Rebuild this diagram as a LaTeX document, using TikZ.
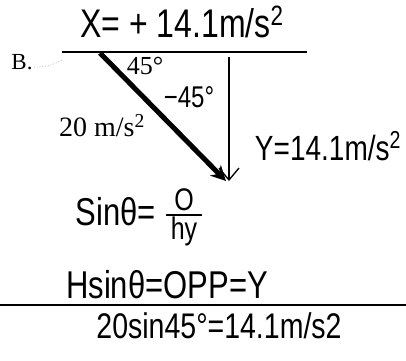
\documentclass[tikz,border=0pt]{standalone}
\usepackage{fontspec}
\setmainfont{Liberation Serif}
\newfontfamily\handfont{Liberation Sans}
\usetikzlibrary{arrows.meta}
\newcommand\tallhand[1]{\scalebox{1}[1.25]{#1}}
\begin{document}
\begin{tikzpicture}[x=1pt,y=-1pt,
  hand/.style={inner sep=0pt, anchor=center},
  printed/.style={inner sep=0pt, anchor=center},
  rule/.style={line width=1.4pt},
  thickvec/.style={line width=5pt, -{Stealth[length=15pt,width=15pt]}},
  thinvec/.style={line width=1.3pt, -{Straight Barb[length=12pt,width=20pt,line width=1.3pt]}}]
\useasboundingbox (0,0) rectangle (406,360);
% coordinates
\coordinate (topL) at (62,52);
\coordinate (topR) at (307,52);
\coordinate (tail) at (100,53);
\coordinate (tip) at (226,181);
\coordinate (vtop) at (229,57);
\coordinate (vtip) at (229,181);
\coordinate (botL) at (0,305);
\coordinate (botR) at (406,305);
% lines
\draw[rule] (topL) -- (topR);
\draw[line width=1.8pt] (botL) -- (botR);
% vectors
\draw[thinvec] (vtop) -- (vtip);
\draw[thickvec] (tail) -- (tip);
% texts
\node[hand, font=\handfont\fontsize{32}{34}\selectfont] (xt) at (182,22) {\tallhand{X= + 14.1m/s\textsuperscript{2}}};
\node[printed, font=\fontsize{23}{25}\selectfont] (b) at (22,62) {B.};
\coordinate (b1) at (34,67);
\coordinate (b2) at (62,60);
\draw[gray!60, dotted, line width=0.8pt] (b1) to[bend right=15] (b2);
\node[printed, font=\fontsize{26}{28}\selectfont] (a45) at (145,66) {45\textdegree};
\node[hand, font=\handfont\fontsize{24}{26}\selectfont] (m45) at (189,97) {\tallhand{−45\textdegree}};
\node[printed, font=\fontsize{28}{30}\selectfont] (v20) at (102,126) {20 m/s\textsuperscript{2}};
\node[hand, font=\handfont\fontsize{28}{30}\selectfont] (yt) at (328,146) {\tallhand{Y=14.1m/s\textsuperscript{2}}};
\node[hand, font=\handfont\fontsize{31}{33}\selectfont] (sin) at (116,212) {\tallhand{Sinθ=}};
\node[hand, font=\handfont\fontsize{25}{27}\selectfont] (fo) at (184,200) {\tallhand{O}};
\node[hand, font=\handfont\fontsize{25}{27}\selectfont] (fh) at (184,231) {\tallhand{hy}};
\coordinate (barL) at (166,215);
\coordinate (barR) at (202,215);
\draw[line width=1.2pt] (barL) -- (barR);
\node[hand, font=\handfont\fontsize{31}{33}\selectfont] (hs) at (167,285) {\tallhand{Hsinθ=OPP=Y}};
\node[hand, font=\handfont\fontsize{28.5}{30}\selectfont] (res) at (219,326) {\tallhand{20sin45\textdegree=14.1m/s2}};
\end{tikzpicture}
\end{document}
